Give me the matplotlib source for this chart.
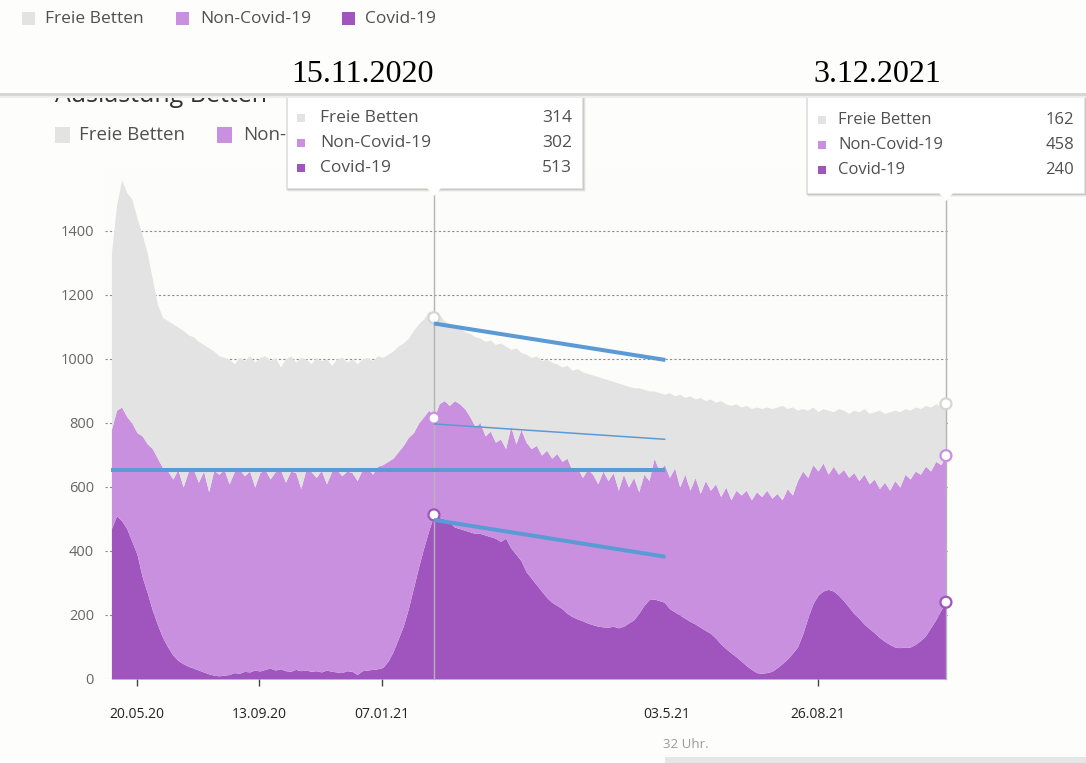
import matplotlib.pyplot as plt
from matplotlib.patches import Rectangle, Polygon

plt.rcParams['font.family'] = ['Open Sans', 'DejaVu Sans']

W, H = 1086, 763

# Intensivbetten, eine Stützstelle je ca. 5 Tage
covid = [
    470, 510, 495, 470, 430, 390, 320, 270, 215, 170,
    130, 100, 75, 58, 48, 40, 34, 28, 22, 16,
    12, 10, 12, 14, 20, 18, 24, 22, 28, 25,
    30, 34, 28, 32, 26, 24, 30, 26, 28, 24,
    26, 22, 28, 24, 22, 20, 26, 24, 14, 26,
    28, 30, 32, 36, 55, 85, 125, 165, 220, 285,
    350, 410, 465, 513, 505, 500, 490, 475, 470, 465,
    460, 455, 455, 450, 445, 440, 430, 440, 410, 390,
    370, 335, 315, 295, 275, 255, 240, 230, 220, 205,
    195, 188, 182, 175, 170, 165, 163, 162, 165, 160,
    165, 175, 185, 205, 230, 248, 250, 245, 240, 220,
    210, 200, 190, 180, 172, 162, 152, 143, 128, 110,
    95, 82, 70, 56, 42, 30, 20, 18, 20, 24,
    35, 48, 62, 80, 100, 140, 190, 235, 262, 275,
    280, 275, 262, 245, 225, 205, 190, 172, 158, 145,
    130, 118, 108, 100, 98, 100, 100, 108, 120, 135,
    160, 185, 215, 240,
]

# belegte Betten (Covid-19 + Non-Covid-19)
belegt = [
    780, 840, 850, 820, 800, 770, 760, 735, 720, 690,
    660, 650, 625, 655, 600, 648, 655, 615, 650, 585,
    652, 640, 655, 610, 648, 655, 635, 650, 600, 645,
    655, 625, 648, 655, 615, 650, 645, 595, 655, 648,
    630, 652, 610, 648, 655, 635, 650, 645, 620, 655,
    660, 640, 665, 670, 680, 690, 710, 730, 755, 770,
    800, 820, 840, 815, 860, 870, 855, 870, 860, 845,
    820, 790, 800, 760, 775, 740, 750, 720, 790, 735,
    780, 740, 720, 730, 700, 715, 690, 705, 680, 690,
    650, 660, 630, 655, 640, 610, 650, 620, 645, 590,
    640, 600, 630, 585, 640, 620, 690, 650, 670, 630,
    660, 600, 640, 590, 630, 580, 620, 590, 610, 570,
    600, 560, 590, 575, 590, 560, 585, 570, 590, 565,
    580, 560, 595, 575, 620, 650, 630, 670, 650, 675,
    640, 665, 640, 655, 630, 645, 620, 640, 610, 625,
    595, 615, 590, 620, 600, 640, 625, 650, 640, 665,
    650, 680, 670, 698,
]

# Betten gesamt (belegt + frei)
gesamt = [
    1330, 1480, 1560, 1520, 1500, 1440, 1390, 1330, 1250, 1170,
    1130, 1120, 1110, 1100, 1090, 1075, 1070, 1055, 1045, 1035,
    1025, 1010, 1005, 1000, 985, 1005, 995, 1010, 990, 1005,
    1010, 995, 1005, 975, 1000, 1010, 990, 1005, 1000, 985,
    1005, 995, 1000, 980, 1000, 1005, 990, 1000, 985, 1000,
    1005, 995, 1010, 1005, 1015, 1025, 1040, 1050, 1065, 1090,
    1110, 1125, 1150, 1129, 1140, 1120, 1110, 1095, 1100, 1085,
    1080, 1070, 1065, 1055, 1060, 1045, 1050, 1040, 1030, 1035,
    1020, 1015, 1005, 1010, 995, 1000, 990, 985, 975, 980,
    965, 970, 960, 955, 950, 945, 940, 935, 930, 925,
    920, 915, 910, 910, 905, 900, 900, 895, 890, 895,
    885, 890, 880, 885, 875, 880, 870, 875, 865, 870,
    860, 855, 860, 850, 855, 845, 850, 845, 850, 845,
    850, 855, 845, 850, 840, 845, 840, 850, 835, 845,
    840, 835, 845, 840, 830, 840, 835, 845, 830, 835,
    840, 830, 835, 840, 835, 845, 840, 850, 845, 855,
    850, 860, 855, 860,
]

x_ticks = [5, 28.83, 52.85, 108.5, 138]
x_labels = ['20.05.20', '13.09.20', '07.01.21', '03.5.21', '26.08.21']
y_ticks = [0, 200, 400, 600, 800, 1000, 1200, 1400]

series_names = ['Freie Betten', 'Non-Covid-19', 'Covid-19']

# ausgewählte Tage (Tooltip)
sel_idx = [63, 163]
sel_dates = ['15.11.2020', '3.12.2021']

# Trendlinien
trend_x = [[0, 108.2], [63, 108.2], [63, 108.2], [63, 108.2]]
trend_y = [[653, 653], [1111, 997], [797, 749], [497, 382]]
trend_lw = [2.9, 2.9, 1.1, 2.9]

C_FREE = '#e3e3e3'
C_NON = '#c990e0'
C_COVID = '#a054be'
C_TEXT = '#505050'
C_BLUE = '#5b9bd5'
colors = [C_FREE, C_NON, C_COVID]


def fx(px):
    return px / W


def fy(py):
    return 1 - py / H


def rect(x0, y0, x1, y1, **kw):
    r = Rectangle((fx(x0), fy(y1)), (x1 - x0) / W, (y1 - y0) / H,
                  transform=fig.transFigure, **kw)
    fig.patches.append(r)
    return r


fig = plt.figure(figsize=(W / 100, H / 100), dpi=100, facecolor='#fdfdfc')
ax = fig.add_axes([105 / W, 1 - 679 / H, 843 / W, 512 / H], facecolor='#fcfcfa')

x = list(range(len(covid)))
ax.fill_between(x, 0, covid, color=C_COVID, lw=0, zorder=3)
ax.fill_between(x, covid, belegt, color=C_NON, lw=0, zorder=3)
ax.fill_between(x, belegt, gesamt, color=C_FREE, lw=0, zorder=3)

ax.set_xlim(-1.25, 163.4)
ax.set_ylim(0, 1600)
ax.set_yticks(y_ticks)
ax.yaxis.grid(True, linestyle=(0, (2, 2)), color='#8c8c8c', lw=0.8)
ax.set_axisbelow(True)
ax.tick_params(axis='y', length=0, pad=8, labelsize=10.5, labelcolor='#666666')
ax.set_xticks(x_ticks, x_labels)
ax.tick_params(axis='x', length=5, width=1, color='#444444', pad=15,
               labelsize=10, labelcolor='#222222')
ax.xaxis.get_major_ticks()[3].tick1line.set_visible(False)
for s in ax.spines.values():
    s.set_visible(False)

# Hover-Linien und Punkte
for i in sel_idx:
    ax.axvline(i, ymin=0, ymax=(679 - 192) / 512, color='#b4b4b4', lw=1,
               zorder=4, clip_on=False)
    ax.scatter([i] * 3, [gesamt[i], belegt[i], covid[i]], s=62,
               facecolor='white', edgecolors=['#d6d6d6', C_NON, C_COVID],
               linewidths=1.6, zorder=6, clip_on=False)

for tx, ty, lw in zip(trend_x, trend_y, trend_lw):
    ax.plot(tx, ty, color=C_BLUE, lw=lw, solid_capstyle='butt', zorder=7)

# abgeschnittener Titel und Legende des Diagramms (vom Tooltip verdeckt)
fig.text(fx(55), fy(102), 'Auslastung Betten', fontsize=18, color='#333333',
         va='baseline', zorder=2)
for sx, tx, name, c in [(55, 79, series_names[0], C_FREE),
                        (217, 243, series_names[1][:4], C_NON)]:
    rect(sx, 127, sx + 15, 143, facecolor=c, lw=0, zorder=2)
    fig.text(fx(tx), fy(135), name, fontsize=13.5, color=C_TEXT,
             va='center', zorder=2)


def tooltip(x0, x1, y1, px, idx, row_y, sq_x, lab_x, val_x, size):
    for k, a in enumerate([0.10, 0.07, 0.04]):
        rect(x0 - 1 + k, 95, x1 + 2 + k, y1 + 2 + k, facecolor='black',
             alpha=a, lw=0, zorder=9)
    rect(x0, 95, x1, y1, facecolor='white', edgecolor='#e2e2e2', lw=0.6, zorder=10)
    tri = Polygon([(fx(px - 8), fy(y1 - 1)), (fx(px + 8), fy(y1 - 1)),
                   (fx(px), fy(y1 + 8))], closed=True, transform=fig.transFigure,
                  facecolor='white', edgecolor='none', zorder=10)
    fig.patches.append(tri)
    i = idx
    vals = [gesamt[i] - belegt[i], belegt[i] - covid[i], covid[i]]
    for ry, name, c, v in zip(row_y, series_names, colors, vals):
        rect(sq_x, ry - 4, sq_x + 8, ry + 4, facecolor=c, lw=0, zorder=11)
        fig.text(fx(lab_x), fy(ry), name, fontsize=size, color=C_TEXT,
                 va='center', zorder=11)
        fig.text(fx(val_x), fy(ry), str(v), fontsize=size, color=C_TEXT,
                 va='center', ha='right', zorder=11)


tooltip(287, 582, 188, 434, sel_idx[0], [118, 143, 168], 297, 320, 572, 12.5)
tooltip(807, 1084, 193, 946, sel_idx[1], [120, 145, 170], 818, 838, 1074, 12)

# oberer Rand
rect(0, 0, W, 93, facecolor='#fdfdfc', lw=0, zorder=12)
rect(0, 93, W, 96, facecolor='#d6d6d6', lw=0, zorder=13)
rect(0, 96, W, 98, facecolor='#eeeeee', lw=0, zorder=13)

# Legende oben
for sx, tx, name, c in [(22, 45, series_names[0], C_FREE),
                        (176, 200, series_names[1], C_NON),
                        (342, 365, series_names[2], C_COVID)]:
    rect(sx, 12, sx + 13, 25, facecolor=c, lw=0, zorder=14)
    fig.text(fx(tx), fy(19), name, fontsize=12.5, color=C_TEXT,
             va='center', zorder=14)

for px, d in zip([362, 877], sel_dates):
    fig.text(fx(px), fy(75), d, family='Liberation Serif', fontsize=23,
             ha='center', va='center', color='black', zorder=14)

# unterer Rand
fig.text(fx(663), fy(745), '32 Uhr.', fontsize=9.5, color='#9a9a9a',
         va='center', zorder=14)
rect(665, 757, W, H, facecolor='#e6e6e6', lw=0, zorder=14)

fig.savefig('out.png', dpi=100, facecolor=fig.get_facecolor())
